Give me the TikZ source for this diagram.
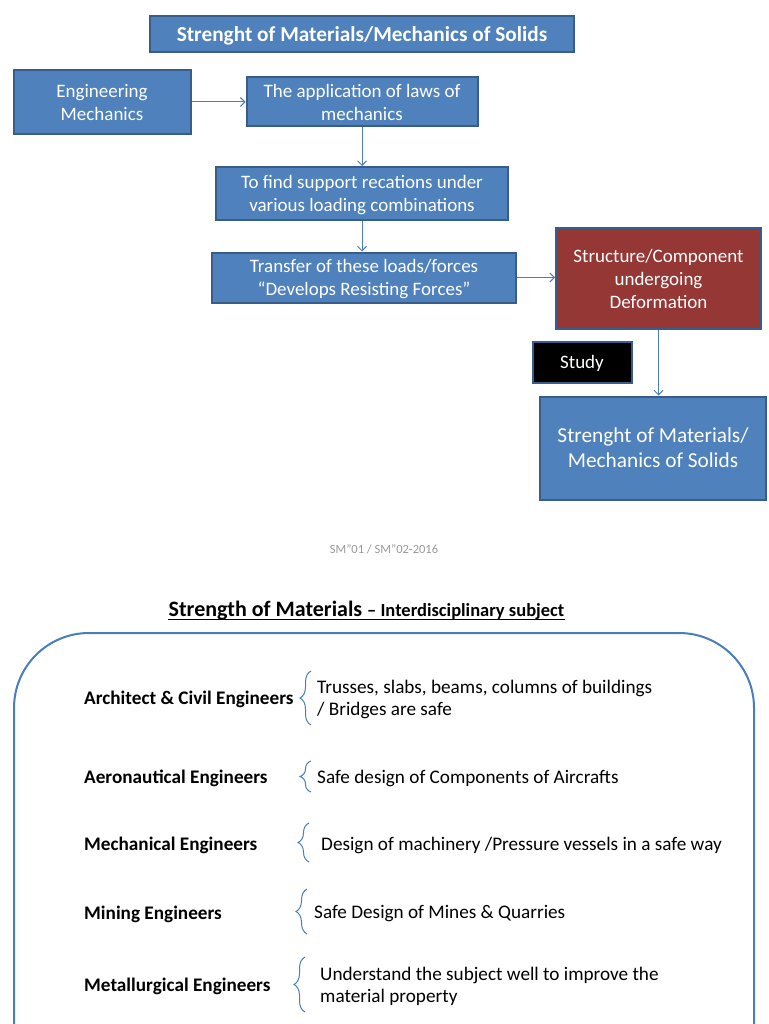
\documentclass[tikz,border=0pt]{standalone}
\usepackage{fontspec}
\setmainfont{Carlito}
\usetikzlibrary{arrows.meta,decorations.pathreplacing}
\definecolor{boxblue}{HTML}{4F81BD}
\definecolor{edgeblue}{HTML}{385D8A}
\definecolor{linkblue}{HTML}{4A7EBB}
\definecolor{deformred}{HTML}{953735}
\tikzstyle{flow} = [rectangle, draw=edgeblue, line width=2pt, fill=boxblue, text=white, align=center, inner sep=0pt, font=\fontsize{19}{23}\selectfont]
\tikzstyle{arrow} = [linkblue, line width=1pt, ->, >={Straight Barb[length=4.5pt,width=9pt]}]
\tikzstyle{field} = [anchor=west, inner sep=0pt, font=\bfseries\fontsize{19.2}{22}\selectfont]
\tikzstyle{duty} = [anchor=west, inner sep=0pt, align=left, font=\fontsize{19.2}{22}\selectfont]
\tikzstyle{bracket} = [linkblue, line width=1pt, decorate, decoration={brace, amplitude=11pt}]

\begin{document}
\begin{tikzpicture}[x=1pt, y=-1pt, node distance=84pt]
\useasboundingbox (0,0) rectangle (768,1024);

% flow chart
\node (Title)[flow, minimum width=424pt, minimum height=36pt, text depth=0pt, font=\bfseries\fontsize{21.3}{25}\selectfont] at (362,34) {Strenght of Materials/Mechanics of Solids};

\node (AppLaws)[flow, minimum width=231pt, minimum height=49pt, text depth=0pt] at (362,102) {The application of laws of\\mechanics};
\node (EngMech)[flow, left of=AppLaws, xshift=-176pt, minimum width=177pt, minimum height=64pt, text depth=0pt] {Engineering\\Mechanics};
\draw [arrow](EngMech) -- (AppLaws);

\node (ToFind)[flow, below of=AppLaws, yshift=-7.5pt, minimum width=292pt, minimum height=53pt, text depth=0pt] {To find support recations under\\various loading combinations};
\draw [arrow](AppLaws) -- (ToFind);

\node (Transfer)[flow, below of=ToFind, xshift=2pt, minimum width=304pt, minimum height=50pt, text depth=0pt] {Transfer of these loads/forces\\“Develops Resisting Forces”};
\draw [arrow](ToFind.south) -- (ToFind.south |- Transfer.north);

\node (Structure)[flow, right of=Transfer, xshift=210.5pt, yshift=-1pt, fill=deformred, minimum width=205pt, minimum height=100pt] {Structure/Component\\undergoing\\Deformation};
\draw [arrow](Transfer.east) -- (Transfer.east -| Structure.west);

\node (Study)[flow, fill=black, minimum width=99pt, minimum height=41pt, text depth=0pt] at (582,362) {Study};

\node (SoM)[flow, below of=Structure, xshift=-5.5pt, yshift=-85.5pt, minimum width=226pt, minimum height=103pt, font=\fontsize{21.3}{25}\selectfont] {Strenght of Materials/\\Mechanics of Solids};
\draw [arrow](Structure.south) -- (Structure.south |- SoM.north);

\node (Footer)[text=black!40, font=\fontsize{12.5}{15}\selectfont] at (384,549) {SM"01 / SM"02-2016};

% interdisciplinary part
\node (Heading)[inner sep=0pt, anchor=base] at (366.5,616) {\bfseries\fontsize{22}{26}\selectfont Strength of Materials \fontsize{18.5}{22}\selectfont – Interdisciplinary subject};
\draw [line width=1pt]([yshift=-3pt]Heading.base west) -- ([yshift=-3pt]Heading.base east);

\draw [rounded corners=75pt, draw=linkblue, line width=2pt](14,1060) -- (14,633) -- (754,633) -- (754,1060);

\node (Civil)[field] at (84,699) {Architect \& Civil Engineers};
\node (CivilDuty)[duty] at (317,699) {Trusses, slabs, beams, columns of buildings\\/ Bridges are safe};
\draw [bracket](311,725) -- (311,671);

\node (Aero)[field] at (84,778) {Aeronautical Engineers};
\node (AeroDuty)[duty] at (317,778) {Safe design of Components of Aircrafts};
\draw [bracket](311,792) -- (311,761);

\node (Mech)[field] at (84,845) {Mechanical Engineers};
\node (MechDuty)[duty] at (321,845) {Design of machinery /Pressure vessels in a safe way};
\draw [bracket](309,862) -- (309,823);

\node (Mining)[field] at (84,914) {Mining Engineers};
\node (MiningDuty)[duty] at (314,914) {Safe Design of Mines \& Quarries};
\draw [bracket](307,934) -- (307,889);

\node (Metal)[field] at (84,986) {Metallurgical Engineers};
\node (MetalDuty)[duty] at (320,986) {Understand the subject well to improve the\\material property};
\draw [bracket](305,1012) -- (305,957);
\end{tikzpicture}
\end{document}
